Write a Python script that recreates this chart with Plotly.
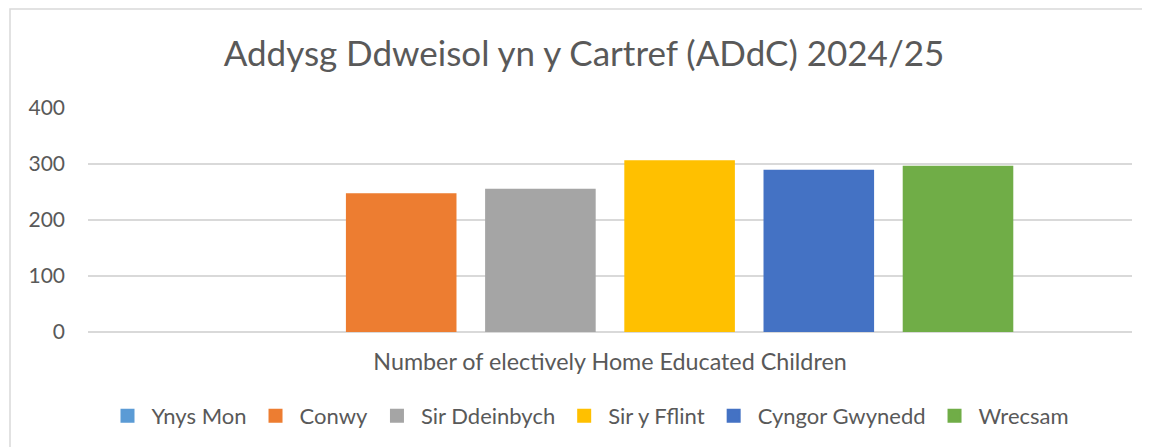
import plotly.graph_objects as go

category = ["Number of electively Home Educated Children"]
series_names = ["Ynys Mon", "Conwy", "Sir Ddeinbych", "Sir y Fflint", "Cyngor Gwynedd", "Wrecsam"]
values = [None, 246, 254, 305, 288, 295]
colors = ["#5B9BD5", "#ED7D31", "#A5A5A5", "#FFC000", "#4472C4", "#70AD47"]
title_text = "Addysg Ddweisol yn y Cartref (ADdC) 2024/25"

FONT = "Lato, Inter, 'Open Sans', sans-serif"
TXT = "#595959"

# page has an 8px body margin; figure is placed at (8, 8)
OFF = 8
W, H = 1150 - OFF, 447 - OFF
L, T = 88 - OFF, 108 - OFF
R = W - (1132 - OFF)
B = H - (332 - OFF)
pw = W - L - R
ph = H - T - B


def px_x(px):
    return (px - OFF - L) / pw


def px_y(py):
    return (H - B - (py - OFF)) / ph


fig = go.Figure()
for name, v, c in zip(series_names, values, colors):
    fig.add_trace(go.Bar(x=category, y=[v], name=name,
                         marker=dict(color=c, line=dict(width=2, color=c))))

fig.update_layout(
    width=W, height=H,
    margin=dict(l=L, r=R, t=T, b=B, autoexpand=False),
    paper_bgcolor="white", plot_bgcolor="white",
    barmode="group", bargap=0.20, bargroupgap=0.22,
    font=dict(family=FONT, color=TXT, size=20),
    title=dict(text=title_text, x=px_x(584), xref="paper", xanchor="center",
               y=1 - (54 - OFF) / H, yanchor="middle", font=dict(size=35, color=TXT, family=FONT)),
    xaxis=dict(showgrid=False, showline=False, ticks="", tickfont=dict(size=23.3, color=TXT),
               ticklabelstandoff=14),
    yaxis=dict(range=[0, 400], dtick=100, showgrid=True, gridcolor="#D9D9D9", gridwidth=1.5,
               zeroline=True, zerolinecolor="#D9D9D9", zerolinewidth=1.5, showline=False,
               tickfont=dict(size=21, color=TXT), ticklabelstandoff=22),
    legend=dict(orientation="h", x=px_x(589), xanchor="center",
                y=px_y(416), yanchor="middle", font=dict(size=22, color=TXT),
                itemwidth=38, tracegroupgap=0),
    shapes=[dict(type="rect", xref="paper", yref="paper",
                 x0=px_x(10), x1=px_x(1180),
                 y0=px_y(470), y1=px_y(9),
                 line=dict(color="#D9D9D9", width=1.5), fillcolor="rgba(0,0,0,0)", layer="below")],
)

fig.write_html("out.html")
